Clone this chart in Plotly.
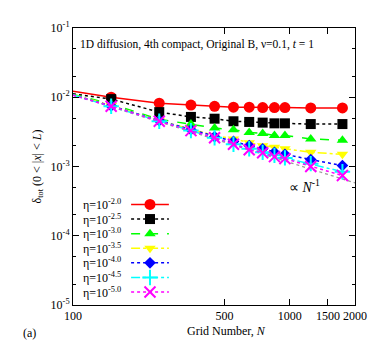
import plotly.graph_objects as go

# griglie e errori
N = [100, 150, 250, 350, 450, 550, 650, 750, 850, 950, 1250, 1750]

err_m20 = [0.0122, 0.0100, 0.0082, 0.0077, 0.0074, 0.0072, 0.0072, 0.0071, 0.0071, 0.0071, 0.0070, 0.0070]
err_m25 = [0.0112, 0.0094, 0.0061, 0.0052, 0.0049, 0.0045, 0.0044, 0.0043, 0.0042, 0.0042, 0.0041, 0.0041]
err_m30 = [0.0110, 0.0080, 0.0048, 0.0041, 0.0036, 0.0034, 0.0031, 0.0030, 0.0028, 0.0028, 0.0025, 0.0024]
err_m35 = [0.0109, 0.0076, 0.0046, 0.0035, 0.0028, 0.0025, 0.0022, 0.0020, 0.0019, 0.0018, 0.0016, 0.0015]
err_m40 = [0.0108, 0.0075, 0.0046, 0.0034, 0.0027, 0.0023, 0.0020, 0.0018, 0.0016, 0.0015, 0.00126, 0.00103]
err_m45 = [0.0108, 0.0074, 0.0045, 0.0033, 0.0026, 0.0021, 0.0018, 0.0016, 0.00145, 0.00133, 0.0011, 0.00084]
err_m50 = [0.0107, 0.0074, 0.0045, 0.0033, 0.0026, 0.0021, 0.00175, 0.00158, 0.00139, 0.0013, 0.0010, 0.00074]

labels = ["-2.0", "-2.5", "-3.0", "-3.5", "-4.0", "-4.5", "-5.0"]

# retta di riferimento ~ N^-1
ref_N = [100, 2000]
ref_err = [0.0108, 0.00058]

x_ticks = [100, 500, 1000, 1500, 2000]
y_ticks = [1e-5, 1e-4, 1e-3, 1e-2, 1e-1]
y_ticktext = ["10<sup>-5</sup>", "10<sup>-4</sup>", "10<sup>-3</sup>", "10<sup>-2</sup>", "10<sup>-1</sup>"]
y_minor = [2e-5, 5e-5, 2e-4, 5e-4, 2e-3, 5e-3, 2e-2, 5e-2]

series = [err_m20, err_m25, err_m30, err_m35, err_m40, err_m45, err_m50]
colors = ["#ff0000", "#000000", "#00ff00", "#ffff00", "#0000ff", "#00ffff", "#ff00ff"]
symbols = ["circle", "square", "triangle-up", "triangle-down", "diamond", "cross-thin", "x-thin"]
dashes = ["solid", "dot", "dash", "dashdot", "dot", "dashdot", "dot"]
msizes = [11, 10, 10, 10, 9, 11, 11]

SERIF = "Liberation Serif"

fig = go.Figure()

# retta di riferimento
fig.add_trace(go.Scatter(
    x=ref_N, y=ref_err, mode="lines",
    line=dict(color="#999999", width=1.3, dash="dot"),
    showlegend=False, hoverinfo="skip"
))

for i, ys in enumerate(series):
    thin = symbols[i].endswith("thin")
    fig.add_trace(go.Scatter(
        x=N, y=ys, mode="lines+markers",
        line=dict(color=colors[i], width=1.5, dash=dashes[i]),
        marker=dict(
            symbol=symbols[i], color=colors[i], opacity=1,
            size=[0] + [msizes[i]] * (len(N) - 1),
            line=dict(color=colors[i], width=2 if thin else 0)
        ),
        showlegend=False,
        name="η=10^" + labels[i]
    ))

# legenda stile gnuplot: testo a sinistra, campione a destra (asse sovrapposto)
row0 = 0.363
step = 0.0527
for i in range(len(series)):
    yy = row0 - i * step
    thin = symbols[i].endswith("thin")
    fig.add_trace(go.Scatter(
        x=[0.206, 0.273, 0.340], y=[yy, yy, yy],
        xaxis="x2", yaxis="y2", mode="lines+markers",
        line=dict(color=colors[i], width=1.5, dash=dashes[i]),
        marker=dict(symbol=symbols[i], color=colors[i], size=[0, msizes[i], 0], opacity=1,
                    line=dict(color=colors[i], width=2 if thin else 0)),
        showlegend=False, hoverinfo="skip"
    ))
    fig.add_annotation(
        x=0.177, y=yy, xref="paper", yref="paper",
        text="η=10<sup>" + labels[i] + "</sup>", showarrow=False,
        xanchor="right", yanchor="middle",
        font=dict(family=SERIF, size=12, color="black")
    )

fig.add_annotation(
    x=0.018, y=0.94, xref="paper", yref="paper",
    text="1D diffusion, 4th compact, Original B, ν=0.1, <i>t</i> = 1",
    showarrow=False, xanchor="left", yanchor="middle",
    font=dict(family=SERIF, size=11.5, color="black")
)
fig.add_annotation(
    x=0.82, y=0.43, xref="paper", yref="paper",
    text="∝ <i>N</i><sup>-1</sup>", showarrow=False,
    xanchor="center", yanchor="middle",
    font=dict(family=SERIF, size=14, color="black")
)
fig.add_annotation(
    x=-0.184, y=-0.10, xref="paper", yref="paper",
    text="(a)", showarrow=False, xanchor="left", yanchor="middle",
    font=dict(family=SERIF, size=12, color="black")
)
fig.add_annotation(
    x=0.546, y=-0.093, xref="paper", yref="paper",
    text="Grid Number, <i>N</i>", showarrow=False,
    xanchor="center", yanchor="middle",
    font=dict(family=SERIF, size=12, color="black")
)

fig.update_layout(
    width=382, height=344,
    margin=dict(l=65, r=35, t=16, b=47),
    paper_bgcolor="white", plot_bgcolor="white",
    font=dict(family=SERIF, size=12, color="black"),
    xaxis=dict(
        type="log", range=[2, 3.30103],
        tickvals=x_ticks, ticktext=[str(v) for v in x_ticks],
        ticks="inside", ticklen=6, tickcolor="black",
        showgrid=False, zeroline=False,
        showline=True, linecolor="black", linewidth=1, mirror="ticks",
    ),
    yaxis=dict(
        type="log", range=[-5, -1],
        tickvals=y_ticks, ticktext=y_ticktext,
        ticks="inside", ticklen=6, tickcolor="black",
        minor=dict(tickvals=y_minor, ticks="inside", ticklen=3, tickcolor="black"),
        showgrid=False, zeroline=False,
        showline=True, linecolor="black", linewidth=1, mirror="ticks",
        title=dict(text="δ<sub>tot</sub> (0 &lt; |<i>x</i>| &lt; <i>L</i>)", standoff=6,
                   font=dict(family=SERIF, size=12)),
    ),
    xaxis2=dict(domain=[0, 1], range=[0, 1], overlaying="x", anchor="y2", visible=False),
    yaxis2=dict(domain=[0, 1], range=[0, 1], overlaying="y", anchor="x2", visible=False),
)

fig.write_html("out.html")
